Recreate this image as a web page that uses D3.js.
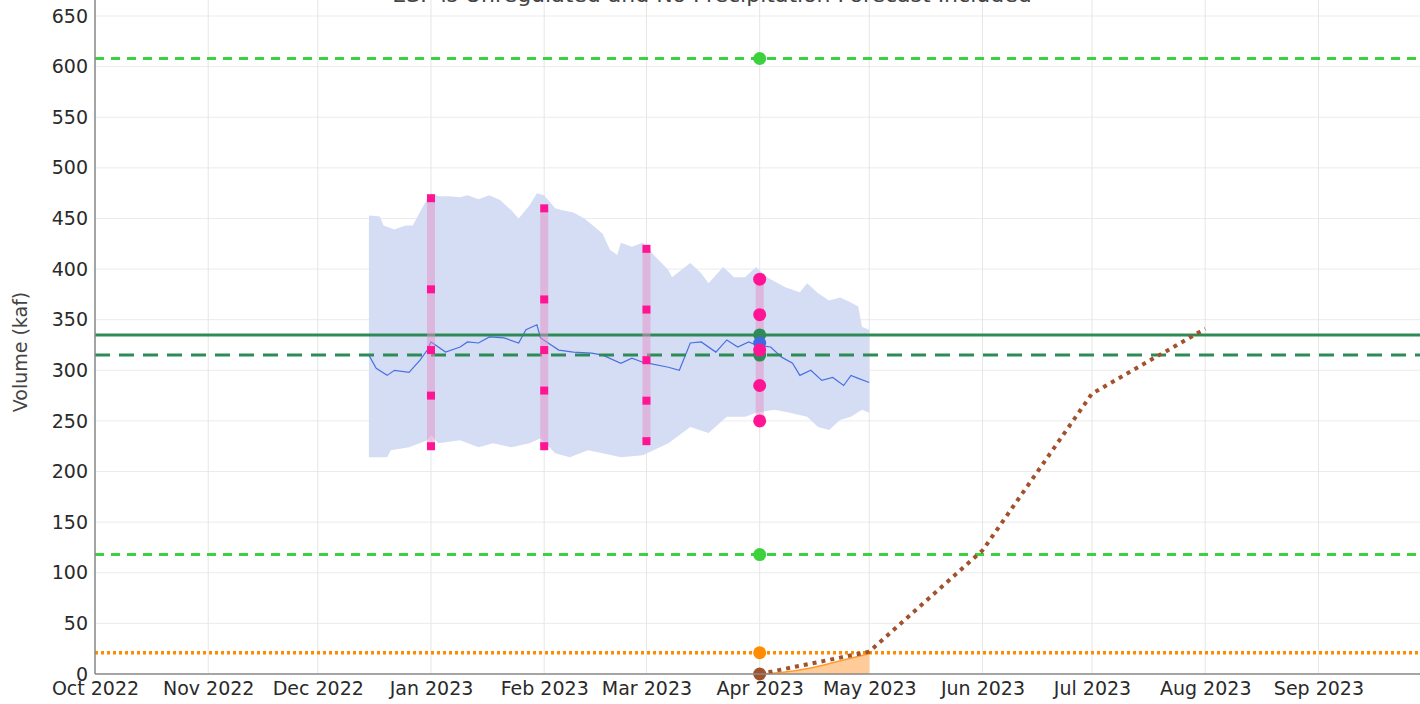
<!DOCTYPE html>
<html><head><meta charset="utf-8">
<script src="https://cdn.jsdelivr.net/npm/d3@7"></script>
<style>
html,body{margin:0;padding:0;background:#fff;overflow:hidden}
text{font-family:"DejaVu Sans",sans-serif}
</style></head>
<body>
<svg id="chart" width="1420" height="704"></svg>
<script>
const titleText = "ESP is Unregulated and No Precipitation Forecast Included";
const yTitle = "Volume (kaf)";
const yTicks = [0,50,100,150,200,250,300,350,400,450,500,550,600,650];
const xTickDates = ["2022-10-01","2022-11-01","2022-12-01","2023-01-01","2023-02-01","2023-03-01","2023-04-01","2023-05-01","2023-06-01","2023-07-01","2023-08-01","2023-09-01"];

// ESP envelope (upper / lower) and median trace
const upperDates = ["2022-12-15","2022-12-18","2022-12-19","2022-12-22","2022-12-25","2022-12-27","2022-12-30","2023-01-01","2023-01-03","2023-01-06","2023-01-09","2023-01-11","2023-01-14","2023-01-17","2023-01-20","2023-01-23","2023-01-25","2023-01-28","2023-01-30","2023-02-01","2023-02-04","2023-02-06","2023-02-09","2023-02-12","2023-02-15","2023-02-17","2023-02-19","2023-02-21","2023-02-22","2023-02-25","2023-02-28","2023-03-03","2023-03-07","2023-03-08","2023-03-13","2023-03-16","2023-03-18","2023-03-22","2023-03-25","2023-03-28","2023-03-31","2023-04-03","2023-04-08","2023-04-12","2023-04-14","2023-04-17","2023-04-20","2023-04-23","2023-04-26","2023-04-28","2023-04-29","2023-05-01"];
const upperVals = [453,452,443,439,443,443,463,475,472,472,471,473,469,473,468,458,450,463,475,473,460,458,456,450,441,435,419,414,426,422,426,414,399,392,406,396,386,402,392,392,402,392,382,377,386,376,369,372,367,363,343,340];
const lowerDates = ["2022-12-15","2022-12-20","2022-12-21","2022-12-26","2022-12-31","2023-01-01","2023-01-03","2023-01-09","2023-01-14","2023-01-18","2023-01-23","2023-01-28","2023-01-31","2023-02-04","2023-02-08","2023-02-13","2023-02-17","2023-02-22","2023-02-28","2023-03-07","2023-03-13","2023-03-18","2023-03-23","2023-03-28","2023-03-31","2023-04-05","2023-04-08","2023-04-14","2023-04-17","2023-04-20","2023-04-23","2023-04-26","2023-04-29","2023-05-01"];
const lowerVals = [214,214,221,224,231,236,228,231,224,228,224,228,233,218,214,221,218,214,216,228,244,238,254,254,258,261,259,254,244,241,251,254,261,258];
const medianDates = ["2022-12-15","2022-12-17","2022-12-20","2022-12-22","2022-12-26","2022-12-29","2022-12-31","2023-01-01","2023-01-05","2023-01-09","2023-01-11","2023-01-14","2023-01-17","2023-01-21","2023-01-25","2023-01-27","2023-01-30","2023-01-31","2023-02-05","2023-02-09","2023-02-14","2023-02-17","2023-02-22","2023-02-25","2023-02-28","2023-03-07","2023-03-10","2023-03-13","2023-03-16","2023-03-20","2023-03-23","2023-03-26","2023-03-29","2023-03-31","2023-04-04","2023-04-07","2023-04-10","2023-04-12","2023-04-15","2023-04-18","2023-04-21","2023-04-24","2023-04-26","2023-04-28","2023-05-01"];
const medianVals = [315,302,295,300,298,310,320,328,318,323,328,327,333,332,327,340,345,332,320,318,317,315,307,312,308,303,300,327,328,318,330,323,328,325,323,313,307,295,300,290,293,285,295,292,288];

// Forecast issue dates and exceedance values
const issueDates = ["2023-01-01","2023-02-01","2023-03-01"];
const issueVals = [[470,380,320,275,225],[460,370,320,280,225],[420,360,310,270,230]];
const currentDate = "2023-04-01";
const currentVals = [390,355,320,285,250];
const currentObs = 327;

// Reference levels
const upperLimit = 608;
const lowerLimit = 118;
const avgLevel = 335;
const medLevel = 315;
const minLevel = 21;

// Historical accumulation (dotted) and observed area
const histDates = ["2023-04-01","2023-05-01","2023-06-01","2023-07-01","2023-08-01"];
const histVals = [0,22,122,277,341];
const obsDates = ["2023-04-01","2023-04-08","2023-04-15","2023-04-22","2023-05-01"];
const obsVals = [0,2,6,12,20];

const svg = d3.select("#chart");
const parse = d3.timeParse("%Y-%m-%d");
const x = d3.scaleTime().domain([parse("2022-10-01"), parse("2023-10-01")]).range([95, 1428]);
const y = d3.scaleLinear().domain([0, 650]).range([674, 16]);
const L = 95, R = 1420, T = -10, B = 674;

// grid
const g = svg.append("g");
g.selectAll(".hg").data(yTicks).join("line")
  .attr("x1", L).attr("x2", R).attr("y1", d => y(d)).attr("y2", d => y(d))
  .attr("stroke", "#ebebeb").attr("stroke-width", 1);
g.selectAll(".vg").data(xTickDates.map(parse)).join("line")
  .attr("x1", d => x(d)).attr("x2", d => x(d)).attr("y1", T).attr("y2", B)
  .attr("stroke", "#e6e6e6").attr("stroke-width", 1);

// title (cut off at top)
svg.append("text").attr("x", 712).attr("y", 2).attr("text-anchor", "middle")
  .attr("font-size", 22).attr("fill", "#444").text(titleText);

// envelope
const upper = upperDates.map((d, i) => [parse(d), upperVals[i]]);
const lower = lowerDates.map((d, i) => [parse(d), lowerVals[i]]);
const poly = upper.map(p => [x(p[0]), y(p[1])]).concat(lower.slice().reverse().map(p => [x(p[0]), y(p[1])]));
svg.append("path").attr("d", "M" + poly.map(p => p.join(",")).join("L") + "Z")
  .attr("fill", "#d5ddf5").attr("stroke", "none");

const line = d3.line().x(d => x(d[0])).y(d => y(d[1]));
svg.append("path").datum(medianDates.map((d, i) => [parse(d), medianVals[i]]))
  .attr("d", line).attr("fill", "none").attr("stroke", "#4a6fe3").attr("stroke-width", 1.2);

// horizontal reference lines
function hline(v, color, w, dash) {
  svg.append("line").attr("x1", L).attr("x2", R).attr("y1", y(v)).attr("y2", y(v))
    .attr("stroke", color).attr("stroke-width", w).attr("stroke-dasharray", dash);
}
hline(upperLimit, "#3dd13d", 3, "9,7");
hline(lowerLimit, "#3dd13d", 3, "9,7");
hline(avgLevel, "#2e8b57", 3, null);
hline(medLevel, "#2e8b57", 3, "15,9");
hline(minLevel, "#ff8c00", 3.5, "3,3");

// observed area
const obs = obsDates.map((d, i) => [parse(d), obsVals[i]]);
svg.append("path").datum(obs)
  .attr("d", d3.area().x(d => x(d[0])).y0(y(0)).y1(d => y(d[1])).curve(d3.curveMonotoneX))
  .attr("fill", "#ffcc99").attr("stroke", "none");
svg.append("path").datum(obs)
  .attr("d", d3.line().x(d => x(d[0])).y(d => y(d[1])).curve(d3.curveMonotoneX))
  .attr("fill", "none").attr("stroke", "#ff9a2e").attr("stroke-width", 1.5);

// historical dotted
svg.append("path").datum(histDates.map((d, i) => [parse(d), histVals[i]]))
  .attr("d", line).attr("fill", "none").attr("stroke", "#a0522d")
  .attr("stroke-width", 4).attr("stroke-dasharray", "4,5");

// issue bars + squares
const barColor = "#e590c8", barOpacity = 0.5;
issueDates.forEach((d, i) => {
  const vals = issueVals[i];
  const xx = x(parse(d));
  svg.append("rect").attr("x", xx - 4).attr("width", 8)
    .attr("y", y(d3.max(vals))).attr("height", y(d3.min(vals)) - y(d3.max(vals)))
    .attr("fill", barColor).attr("opacity", barOpacity);
  svg.selectAll(null).data(vals).join("rect")
    .attr("x", xx - 4).attr("y", v => y(v) - 4).attr("width", 8).attr("height", 8)
    .attr("fill", "#ff1493");
});

// current date
const cx = x(parse(currentDate));
svg.append("rect").attr("x", cx - 4).attr("width", 8)
  .attr("y", y(d3.max(currentVals))).attr("height", y(d3.min(currentVals)) - y(d3.max(currentVals)))
  .attr("fill", barColor).attr("opacity", barOpacity);
function dot(v, color, r) {
  svg.append("circle").attr("cx", cx).attr("cy", y(v)).attr("r", r).attr("fill", color);
}
dot(upperLimit, "#3dd13d", 6.5);
dot(lowerLimit, "#3dd13d", 6.5);
dot(minLevel, "#ff8c00", 6.5);
dot(0, "#a0522d", 6.5);
dot(avgLevel, "#2e8b57", 6.5);
dot(medLevel, "#2e8b57", 6.5);
dot(currentObs, "#4169e1", 6.5);
currentVals.forEach(v => dot(v, "#ff1493", 6.5));

// axes
const ya = svg.append("g").attr("transform", `translate(${L},0)`)
  .call(d3.axisLeft(y).tickValues(yTicks).tickSize(0).tickPadding(7));
ya.select(".domain").attr("stroke", "#8a8a8a").attr("stroke-width", 1.5)
  .attr("d", `M0,${T}V${B}`);
ya.selectAll("text").attr("font-size", 19).attr("fill", "#2a2a2a").attr("font-family", "DejaVu Sans");

const xa = svg.append("g").attr("transform", `translate(0,${B})`)
  .call(d3.axisBottom(x).tickValues(xTickDates.map(parse)).tickFormat(d3.timeFormat("%b %Y")).tickSize(0).tickPadding(8));
xa.select(".domain").attr("stroke", "#8a8a8a").attr("stroke-width", 1.5).attr("d", `M${L},0H${R}`);
xa.selectAll("text").attr("font-size", 19).attr("fill", "#2a2a2a").attr("font-family", "DejaVu Sans");

svg.append("text").attr("transform", "translate(27,352) rotate(-90)")
  .attr("text-anchor", "middle").attr("font-size", 19).attr("fill", "#444").text(yTitle);
</script>
</body></html>
